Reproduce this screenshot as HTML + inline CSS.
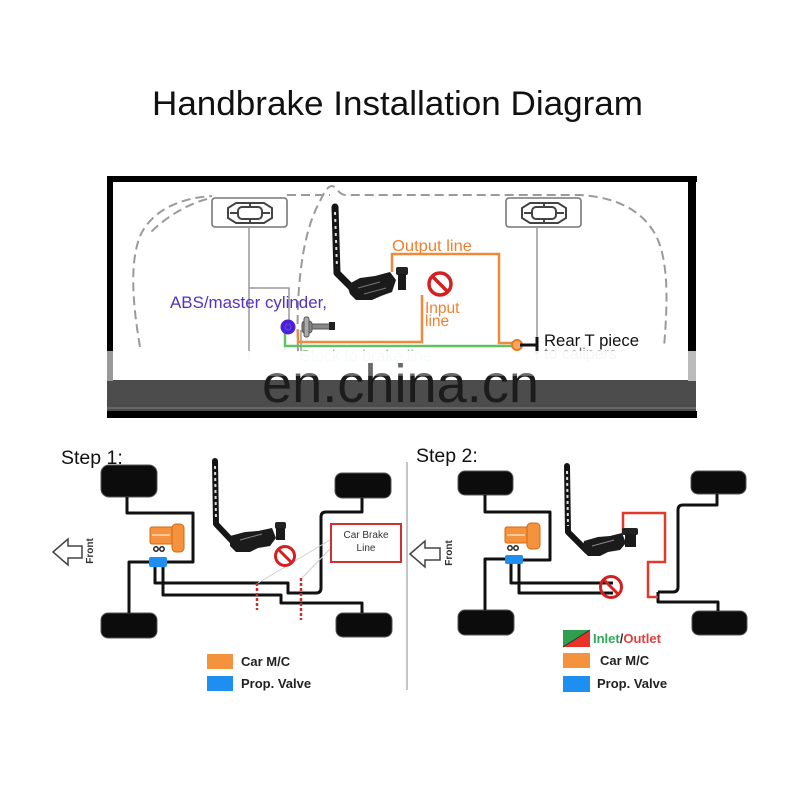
<!DOCTYPE html>
<html><head><meta charset="utf-8"><style>html,body{margin:0;padding:0;background:#fff}svg{display:block}text{font-family:"Liberation Sans",Arial,sans-serif}</style></head><body>
<svg width="800" height="800" viewBox="0 0 800 800" xmlns="http://www.w3.org/2000/svg">
<defs>
<linearGradient id="wm" x1="0" y1="0" x2="0" y2="1">
<stop offset="0" stop-color="#6a6a6a"/>
<stop offset="0.36" stop-color="#6a6a6a"/>
<stop offset="0.37" stop-color="#1c1c1c"/>
<stop offset="1" stop-color="#1c1c1c"/>
</linearGradient>
</defs>
<rect width="800" height="800" fill="#fff"/>
<text x="152" y="115" font-size="34" fill="#111" textLength="491" lengthAdjust="spacingAndGlyphs">Handbrake Installation Diagram</text>

<!-- ===== TOP BOX ===== -->
<rect x="113" y="182" width="575" height="229" fill="#fff"/>
<g fill="none" stroke="#9a9a9a" stroke-width="2" stroke-dasharray="9 5">
<path d="M140 347 C132 300 130 262 140 236 C152 210 180 198 212 196"/>
<path d="M207 199 C185 205 165 218 150 233"/>
<path d="M287 195 L330 195"/>
<path d="M298 352 C296 300 300 240 318 205 C323 195 327 186 332 186 C336 186 338 194 345 195 L580 195 C615 197 645 210 658 240 C668 265 668 300 664 347"/>
</g>
<g fill="none" stroke="#777" stroke-width="1.6">
<rect x="212" y="198" width="75" height="29" rx="3"/>
<rect x="506" y="198" width="75" height="29" rx="3"/>
</g>
<g fill="none" stroke="#444" stroke-width="2">
<path d="M236 203 L264 203 L272 208 L272 218 L264 223 L236 223 L228 218 L228 208 Z"/>
<rect x="238" y="207" width="24" height="12" rx="4"/>
<path d="M230 213 L238 213 M262 213 L270 213 M250 203 L250 207 M250 219 L250 223"/>
<path d="M530 203 L558 203 L566 208 L566 218 L558 223 L530 223 L522 218 L522 208 Z"/>
<rect x="532" y="207" width="24" height="12" rx="4"/>
<path d="M524 213 L532 213 M556 213 L564 213 M544 203 L544 207 M544 219 L544 223"/>
</g>
<g fill="none" stroke="#999" stroke-width="1.5">
<path d="M249 227 L249 360"/>
<path d="M249 288 L289 288 L289 322"/>
<path d="M537 227 L537 360"/>
<path d="M301 330 L301 360"/>
</g>
<g fill="none" stroke-width="2.5">
<path d="M285 333 L285 346 L517 346" stroke="#62c262"/>
<path d="M298 330 L298 342 L422 342 L422 295" stroke="#f08a3a"/>
<path d="M392 272 L392 254 L499 254 L499 343 L514 343" stroke="#f08a3a"/>
</g>
<circle cx="517" cy="345" r="5" fill="#f7a860" stroke="#e87a20" stroke-width="2"/>
<path d="M520 345 L537 345 M537 337 L537 354" stroke="#111" stroke-width="3" fill="none"/>
<circle cx="288" cy="327" r="7.5" fill="#4a1fd6"/>
<circle cx="288" cy="327" r="3" fill="none" stroke="#6b4be0" stroke-width="1"/>
<g fill="#888" stroke="#555" stroke-width="1">
<rect x="302" y="321" width="10" height="12" rx="3"/>
<rect x="312" y="324" width="18" height="5"/>
<rect x="304" y="317" width="5" height="20" rx="2" fill="#aaa"/>
</g>
<rect x="329" y="322" width="6" height="8" fill="#222"/>
<path d="M335 207 L337 273 L357 293" fill="none" stroke="#151515" stroke-width="7" stroke-linecap="round" stroke-linejoin="round"/>
<path d="M335 212 L337 268" fill="none" stroke="#ddd" stroke-width="2" stroke-dasharray="3 4"/>
<polygon points="347,285 360,278 375,276 390,272 396,280 392,292 381,296 372,300 356,300 350,294" fill="#1b1b1b"/>
<path d="M358 288 L380 282 M364 294 L386 288" stroke="#777" stroke-width="1"/>
<rect x="396" y="267" width="12" height="8" rx="2" fill="#222"/>
<rect x="398" y="274" width="8" height="16" fill="#1a1a1a"/>
<circle cx="440" cy="284" r="11" fill="none" stroke="#d42020" stroke-width="3.5"/>
<path d="M432.5 276.5 L447.5 291.5" stroke="#d42020" stroke-width="3.5"/>
<text x="392" y="251" font-size="16" fill="#f08030" textLength="80" lengthAdjust="spacingAndGlyphs">Output line</text>
<text x="425" y="313" font-size="15.5" fill="#f08030">Input</text>
<text x="425" y="326" font-size="15.5" fill="#f08030">line</text>
<text x="170" y="308" font-size="16.5" fill="#5530c8" textLength="157" lengthAdjust="spacingAndGlyphs">ABS/master cylinder,</text>
<text x="544" y="346" font-size="16.5" fill="#111" textLength="95" lengthAdjust="spacingAndGlyphs">Rear T piece</text>
<text x="544" y="359" font-size="16" fill="#111" opacity="0.6">to calipers</text>
<text x="300" y="361" font-size="16" fill="#3aa03a" opacity="0.6">Stock  to brake line</text>
<!-- watermark bands -->
<rect x="107" y="351" width="589" height="30" fill="#fff" opacity="0.93"/>
<rect x="107" y="380" width="589" height="31" fill="#4c4c4c"/>
<rect x="107" y="407" width="589" height="2" fill="#666"/>
<text x="262" y="402" font-size="54" fill="url(#wm)" textLength="277" lengthAdjust="spacingAndGlyphs">en.china.cn</text>
<rect x="107" y="176" width="590" height="6" fill="#000"/>
<rect x="107" y="176" width="6" height="175" fill="#000"/>
<rect x="107" y="351" width="6" height="30" fill="#999"/>
<rect x="688" y="176" width="8" height="175" fill="#000"/>
<rect x="688" y="351" width="8" height="30" fill="#bbb"/>
<rect x="107" y="411" width="590" height="7" fill="#000"/>

<!-- ===== STEP 1 ===== -->
<text x="61" y="464" font-size="19.5" fill="#111">Step 1:</text>
<line x1="407" y1="462" x2="407" y2="690" stroke="#c4c4c4" stroke-width="2"/>
<g fill="#0c0c0c" stroke="#555" stroke-width="1">
<rect x="101" y="465" width="56" height="32" rx="8"/>
<rect x="101" y="613" width="56" height="25" rx="7"/>
<rect x="335" y="473" width="56" height="25" rx="7"/>
<rect x="336" y="613" width="56" height="24" rx="7"/>
</g>
<g fill="none" stroke="#111" stroke-width="3" stroke-linejoin="round">
<path d="M127 497 L127 513 L193 513 L193 562 L167 562"/>
<path d="M129 613 L129 562 L149 562"/>
<path d="M155 566 L155 583 L288 583 L288 593 L316 593 Q321 593 321 588 L321 517 Q321 512 326 512 L362 512 L362 498"/>
<path d="M163 566 L163 595 L281 595 L281 603 L362 603 L362 613"/>
</g>
<rect x="150" y="527" width="23" height="17" rx="2" fill="#f5923e" stroke="#d06a10" stroke-width="1"/>
<rect x="172" y="524" width="12" height="28" rx="4" fill="#f5923e" stroke="#d06a10" stroke-width="1"/>
<path d="M152 535 L170 535" stroke="#fff" stroke-width="1"/>
<circle cx="156" cy="549" r="2.2" fill="none" stroke="#222" stroke-width="1.5"/>
<circle cx="162" cy="549" r="2.2" fill="none" stroke="#222" stroke-width="1.5"/>
<rect x="149" y="557" width="18" height="10" rx="2" fill="#1e8ff0"/>
<path d="M215 461 L216 524 L233 542" fill="none" stroke="#151515" stroke-width="6" stroke-linecap="round" stroke-linejoin="round"/>
<path d="M215 466 L216 520" fill="none" stroke="#ddd" stroke-width="2" stroke-dasharray="3 3"/>
<polygon points="230,536 245,532 258,531 272,528 276,538 270,546 258,548 250,552 236,552 230,546" fill="#1b1b1b"/>
<path d="M240 540 L262 534" stroke="#888" stroke-width="1"/>
<rect x="275" y="522" width="11" height="7" rx="2" fill="#222"/>
<rect x="276" y="528" width="9" height="12" fill="#1a1a1a"/>
<g stroke="#c83030" stroke-width="2.5" stroke-dasharray="3 2">
<line x1="257" y1="583" x2="257" y2="610"/>
<line x1="301" y1="578" x2="301" y2="620"/>
</g>
<g stroke="#cfcfcf" stroke-width="1">
<line x1="330" y1="540" x2="258" y2="583"/>
<line x1="331" y1="548" x2="302" y2="578"/>
</g>
<circle cx="285" cy="556" r="9.5" fill="none" stroke="#d42020" stroke-width="3"/>
<path d="M278.5 549.5 L291.5 562.5" stroke="#d42020" stroke-width="3"/>
<rect x="331" y="524" width="70" height="38" fill="#fff" stroke="#d03030" stroke-width="2"/>
<text x="366" y="538" font-size="10" fill="#333" text-anchor="middle">Car Brake</text>
<text x="366" y="551" font-size="10" fill="#333" text-anchor="middle">Line</text>
<polygon points="53,552 68,539 68,546 82,546 82,558 68,558 68,565" fill="#fff" stroke="#444" stroke-width="1.5"/>
<text transform="translate(93,551) rotate(-90)" font-size="10" font-weight="bold" fill="#333" text-anchor="middle">Front</text>
<rect x="207" y="654" width="26" height="15" fill="#f5923e"/>
<rect x="207" y="676" width="26" height="15" fill="#1e8ff0"/>
<text x="241" y="666" font-size="13" font-weight="bold" fill="#222">Car M/C</text>
<text x="241" y="688" font-size="13" font-weight="bold" fill="#222">Prop. Valve</text>

<!-- ===== STEP 2 ===== -->
<text x="416" y="462" font-size="19.5" fill="#111">Step 2:</text>
<g fill="#0c0c0c" stroke="#555" stroke-width="1">
<rect x="458" y="471" width="55" height="24" rx="7"/>
<rect x="458" y="610" width="56" height="25" rx="7"/>
<rect x="691" y="471" width="55" height="23" rx="7"/>
<rect x="692" y="611" width="55" height="24" rx="7"/>
</g>
<g fill="none" stroke="#111" stroke-width="3" stroke-linejoin="round">
<path d="M485 495 L485 512 L550 512 L550 560 L523 560"/>
<path d="M485 610 L485 559 L505 559"/>
<path d="M511 563 L511 583 L613 583"/>
<path d="M519 563 L519 593 L613 593"/>
<path d="M717 494 L717 505 L683 505 Q678 505 678 510 L678 587 Q678 592 673 592 L658 592"/>
<path d="M658 592 L658 602 L718 602 L718 611"/>
</g>
<path d="M623 533 L623 513 L665 513 L665 562 L648 562 L648 597 L658 597" fill="none" stroke="#e03a2a" stroke-width="2.5"/>
<rect x="505" y="527" width="23" height="16" rx="2" fill="#f5923e" stroke="#d06a10" stroke-width="1"/>
<rect x="527" y="523" width="13" height="26" rx="4" fill="#f5923e" stroke="#d06a10" stroke-width="1"/>
<path d="M507 535 L525 535" stroke="#fff" stroke-width="1"/>
<circle cx="510" cy="548" r="2.2" fill="none" stroke="#222" stroke-width="1.5"/>
<circle cx="516" cy="548" r="2.2" fill="none" stroke="#222" stroke-width="1.5"/>
<rect x="505" y="555" width="18" height="9" rx="2" fill="#1e8ff0"/>
<path d="M567 466 L568 532 L587 551" fill="none" stroke="#151515" stroke-width="6" stroke-linecap="round" stroke-linejoin="round"/>
<path d="M567 471 L568 526" fill="none" stroke="#ddd" stroke-width="2" stroke-dasharray="3 3"/>
<polygon points="584,541 598,537 610,536 622,533 626,543 620,550 608,552 600,556 588,556 582,550" fill="#1b1b1b"/>
<path d="M592 546 L614 540" stroke="#888" stroke-width="1"/>
<rect x="622" y="528" width="16" height="7" rx="2" fill="#222"/>
<rect x="625" y="534" width="11" height="13" fill="#1a1a1a"/>
<circle cx="611" cy="587" r="10.5" fill="#fff" fill-opacity="0" stroke="#d42020" stroke-width="3"/>
<path d="M603.5 579.5 L618.5 594.5" stroke="#d42020" stroke-width="3"/>
<polygon points="410,554 425,541 425,548 440,548 440,560 425,560 425,567" fill="#fff" stroke="#444" stroke-width="1.5"/>
<text transform="translate(452,553) rotate(-90)" font-size="10" font-weight="bold" fill="#333" text-anchor="middle">Front</text>
<polygon points="563,630 590,630 563,647" fill="#2e9e4f"/>
<polygon points="590,630 590,647 563,647" fill="#e8322a"/>
<line x1="590" y1="630" x2="563" y2="647" stroke="#333" stroke-width="1"/>
<rect x="563" y="653" width="27" height="15" fill="#f5923e"/>
<rect x="563" y="676" width="27" height="16" fill="#1e8ff0"/>
<text x="593" y="643" font-size="13" font-weight="bold"><tspan fill="#2fa85a">Inlet</tspan><tspan fill="#333">/</tspan><tspan fill="#e04040">Outlet</tspan></text>
<text x="600" y="665" font-size="13" font-weight="bold" fill="#222">Car M/C</text>
<text x="597" y="688" font-size="13" font-weight="bold" fill="#222">Prop. Valve</text>
</svg>
</body></html>
